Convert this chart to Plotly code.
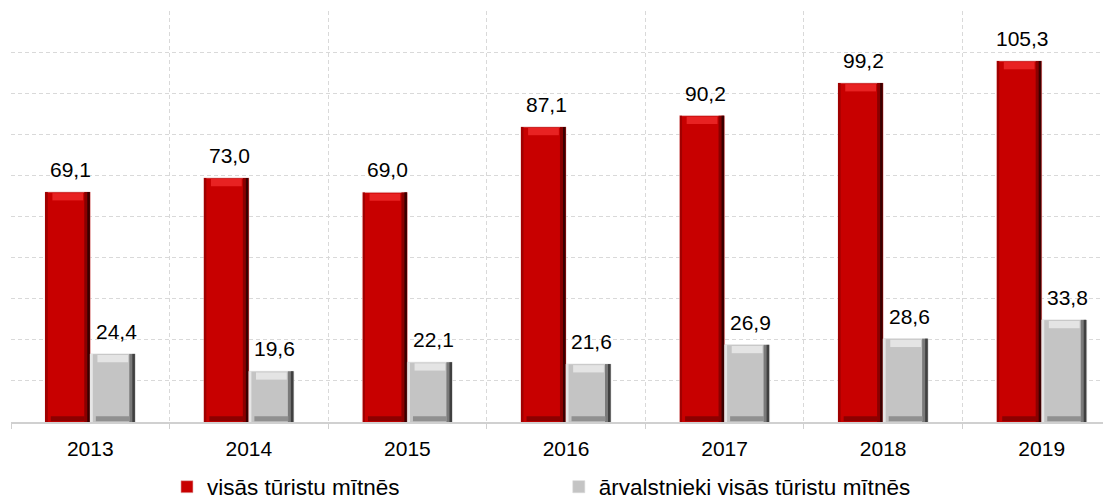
import plotly.graph_objects as go

years = ["2013", "2014", "2015", "2016", "2017", "2018", "2019"]
all_accommodation = [69.1, 73.0, 69.0, 87.1, 90.2, 99.2, 105.3]
foreigners = [24.4, 19.6, 22.1, 21.6, 26.9, 28.6, 33.8]
series_names = ["visās tūristu mītnēs", "ārvalstnieki visās tūristu mītnēs"]

Y0, Y1 = 5.6, 119.1
GRID_STEP = (Y1 - Y0) / 10
BW = 0.284          # bar width in category units
EDGE = 0.035        # dark right edge width
EDGE2 = 0.016
BEVEL = 2.0         # top bevel height in data units
FONT = "Arial, Liberation Sans, sans-serif"


def fmt(v):
    return f"{v:.1f}".replace(".", ",")


fig = go.Figure()

styles = [
    dict(body="#C80000", edge="#8A0000", edge2="#3A0000", left="#A00000",
         top="#E82222", bottom="#8C0000", line="#E0B0B0", offset=-BW, legend="legend"),
    dict(body="#C4C4C4", edge="#7A7A7A", edge2="#404040", left="#E6E6E6",
         top="#E4E4E4", bottom="#909090", line="#D8D8D8", offset=0.0, legend="legend2"),
]

for vals, name, st in zip([all_accommodation, foreigners], series_names, styles):
    # body
    fig.add_trace(go.Bar(x=years, y=vals, name=name, width=BW, offset=st["offset"],
                         marker=dict(color=st["body"], line=dict(color=st["line"], width=0.6)),
                         base=0, showlegend=True, legend=st["legend"], hoverinfo="skip"))
    # left light edge
    fig.add_trace(go.Bar(x=years, y=vals, width=0.012, offset=st["offset"] + 0.004,
                         marker=dict(color=st["left"], line=dict(width=0)),
                         base=0, showlegend=False, hoverinfo="skip"))
    # right dark edges
    fig.add_trace(go.Bar(x=years, y=vals, width=EDGE, offset=st["offset"] + BW - EDGE - 0.003,
                         marker=dict(color=st["edge"], line=dict(width=0)),
                         base=0, showlegend=False, hoverinfo="skip"))
    fig.add_trace(go.Bar(x=years, y=vals, width=EDGE2, offset=st["offset"] + BW - EDGE2 - 0.003,
                         marker=dict(color=st["edge2"], line=dict(width=0)),
                         base=0, showlegend=False, hoverinfo="skip"))
    # top bevel
    fig.add_trace(go.Bar(x=years, y=[BEVEL] * len(vals), base=[v - BEVEL - 0.3 for v in vals],
                         width=BW - 0.09, offset=st["offset"] + 0.045,
                         marker=dict(color=st["top"], line=dict(width=0)),
                         showlegend=False, hoverinfo="skip"))
    # bottom bevel
    fig.add_trace(go.Bar(x=years, y=[1.4] * len(vals), base=[Y0 + 0.2] * len(vals),
                         width=BW - 0.07, offset=st["offset"] + 0.035,
                         marker=dict(color=st["bottom"], line=dict(width=0)),
                         showlegend=False, hoverinfo="skip"))

annotations = []
for i, v in enumerate(all_accommodation):
    annotations.append(dict(x=i, y=v, text=fmt(v), showarrow=False, xref="x", yref="y",
                            xshift=-19.5, yshift=9, yanchor="bottom",
                            font=dict(family=FONT, size=21, color="#000000")))
for i, v in enumerate(foreigners):
    annotations.append(dict(x=i, y=v, text=fmt(v), showarrow=False, xref="x", yref="y",
                            xshift=26, yshift=9, yanchor="bottom",
                            font=dict(family=FONT, size=21, color="#000000")))

legend_common = dict(orientation="h", y=-0.106, yanchor="top",
                     font=dict(family=FONT, size=22.5, color="#000000"),
                     itemclick=False, bgcolor="rgba(0,0,0,0)")

fig.update_layout(
    width=1103, height=492,
    margin=dict(l=3, r=0, t=3, b=78, autoexpand=False),
    barmode="overlay",
    plot_bgcolor="white", paper_bgcolor="white",
    font=dict(family=FONT, size=21, color="#000000"),
    annotations=annotations,
    showlegend=True,
    legend=dict(x=0.1418, xanchor="left", **legend_common),
    legend2=dict(x=0.498, xanchor="left", **legend_common),
)

fig.update_xaxes(
    type="category", range=[-0.5, 6.437],
    showline=True, linecolor="#D0D0D0", linewidth=1.5,
    ticks="outside", ticklen=5, tickcolor="#D0D0D0", tickson="boundaries",
    showgrid=True, gridcolor="#D9D9D9", griddash="4px,3px", gridwidth=1,
    tickfont=dict(family=FONT, size=21, color="#000000"),
    ticklabelstandoff=7,
)
fig.update_yaxes(
    range=[Y0, Y1], tick0=Y0, dtick=GRID_STEP,
    showgrid=True, gridcolor="#D9D9D9", griddash="4px,3px", gridwidth=1,
    showticklabels=False, zeroline=False, showline=False, ticks="",
)

fig.write_html("out.html")
